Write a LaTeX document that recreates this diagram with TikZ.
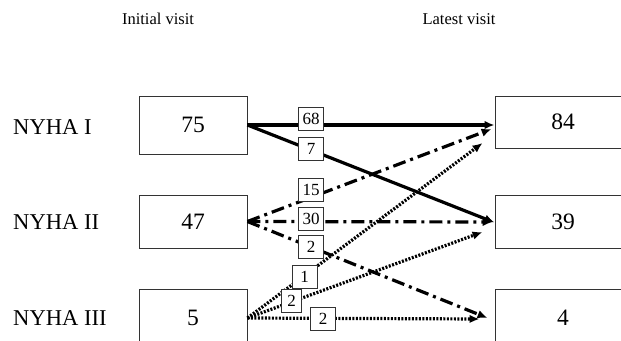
\documentclass[tikz,border=0pt]{standalone}
\usepackage{fontspec}
\setmainfont{Liberation Serif}
\usetikzlibrary{arrows.meta,calc}
\begin{document}
\begin{tikzpicture}[x=1pt,y=-1pt,
  box/.style={draw=black!80,line width=0.9pt,rectangle,inner sep=0pt,
    font=\fontsize{23.5}{26}\selectfont},
  lbl/.style={draw=black!80,fill=white,line width=0.8pt,rectangle,inner sep=0pt,
    minimum width=25pt,minimum height=23pt,font=\fontsize{17}{19}\selectfont},
  cls/.style={anchor=west,inner sep=0pt,font=\fontsize{22.6}{25}\selectfont},
  ttl/.style={inner sep=0pt,font=\fontsize{16.5}{19}\selectfont},
  tip/.style={-{Latex[length=10pt,width=8.5pt]}},
  sol/.style={tip,line width=3.2pt},
  dd/.style={tip,line width=3.2pt,dash pattern=on 13pt off 5pt on 3pt off 5pt},
  dt/.style={tip,line width=3.2pt,dash pattern=on 2pt off 1.5pt}]
\clip (0,0) rectangle (621,340);
% titles
\node[ttl] (t1) at (158,19) {Initial visit};
\node[ttl] (t2) at (459,19) {Latest visit};
% class labels
\node[cls] (c1) at (13,127) {NYHA I};
\node[cls] (c2) at (13,222) {NYHA II};
\node[cls] (c3) at (13,318) {NYHA III};
% boxes
\node[box,minimum width=108pt,minimum height=58pt] (b75) at (193,125) {75};
\node[box,minimum width=108pt,minimum height=53pt] (b47) at (193,221.5) {47};
\node[box,minimum width=108pt,minimum height=58pt] (b5) at (193,318) {5};
\node[box,minimum width=136pt,minimum height=52pt] (b84) at (563,122) {84};
\node[box,minimum width=136pt,minimum height=53pt] (b39) at (563,221.5) {39};
\node[box,minimum width=136pt,minimum height=58pt] (b4) at (563,318) {4};
% end points
\coordinate (e68) at ($(b84.west)+(0,3)$);
\coordinate (e15) at ($(b84.west)+(-3,7)$);
\coordinate (e1) at ($(b84.west)+(-12,21)$);
\coordinate (e7) at ($(b39.west)+(0,1)$);
\coordinate (e30) at ($(b39.west)+(-2,0.5)$);
\coordinate (e2a) at ($(b39.west)+(-12,10.5)$);
\coordinate (e2b) at ($(b4.west)+(-7,0)$);
\coordinate (e2c) at ($(b4.west)+(-15,1)$);
% connectors
\draw[sol] (b75.east) -- (e68);
\draw[sol] (b75.east) -- (e7);
\draw[dd] (b47.east) -- (e15);
\draw[dd] (b47.east) -- (e30);
\draw[dd] (b47.east) -- (e2b);
\draw[dt] (b5.east) -- (e1);
\draw[dt] (b5.east) -- (e2a);
\draw[dt] (b5.east) -- (e2c);
% labels
\node[lbl] (l68) at (311,119) {68};
\node[lbl] (l7) at (311,149) {7};
\node[lbl] (l15) at (311,190) {15};
\node[lbl] (l30) at (311,219) {30};
\node[lbl] (l2b) at (311,247) {2};
\node[lbl] (l1) at (304.5,277) {1};
\node[lbl,minimum width=20pt] (l2a) at (291.5,301) {2};
\node[lbl] (l2c) at (323,318.5) {2};
\end{tikzpicture}
\end{document}
